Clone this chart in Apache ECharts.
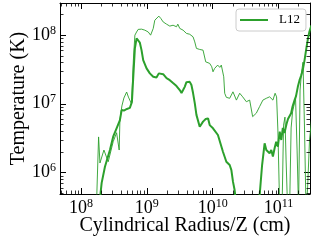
<!DOCTYPE html>
<html>
<head>
<meta charset="utf-8">
<script src="https://cdn.jsdelivr.net/npm/echarts@6/dist/echarts.min.js"></script>
<style>html,body{margin:0;padding:0;background:#fff}#c{width:320px;height:240px}</style>
</head>
<body>
<div id="c"></div>
<script>
// ---- data ----
const xLimits = [4.8e7, 3e11];
const yLimits = [4.9e5, 2.9e8];
const xTitle = 'Cylindrical Radius/Z (cm)';
const yTitle = 'Temperature (K)';
const legendName = 'L12';

// thin line (radius, temperature)
const thinR = [
 1.69e8,1.85e8,1.94e8,2.23e8,2.59e8,3.08e8,3.47e8,3.80e8,3.90e8,4.18e8,
 4.48e8,4.93e8,5.25e8,5.62e8,5.86e8,6.24e8,6.58e8,6.98e8,7.38e8,8.3e8,
 9.33e8,1.05e9,1.14e9,1.25e9,1.32e9,1.40e9,1.52e9,1.63e9,1.77e9,1.99e9,
 2.23e9,2.50e9,2.82e9,2.95e9,3.16e9,3.55e9,3.99e9,4.48e9,5.03e9,5.34e9,
 5.66e9,6.35e9,7.13e9,7.56e9,7.83e9,9.0e9,9.67e9,1.01e10,1.07e10,1.19e10,
 1.28e10,1.35e10,1.43e10,1.47e10,1.52e10,1.61e10,1.81e10,2.03e10,2.29e10,2.57e10,
 2.85e10,3.24e10,3.64e10,4.04e10,4.59e10,5.15e10,5.78e10,6.51e10,6.89e10,7.31e10,
 8.2e10,8.86e10,9.33e10,9.76e10,1.04e11,1.13e11,1.19e11,1.25e11,1.30e11,1.37e11,
 1.47e11,1.55e11,1.63e11,1.81e11,1.91e11,2.01e11,2.12e11,2.23e11,2.35e11,2.48e11,
 2.61e11,2.75e11,2.95e11,3.16e11
];
const thinT = [
 2e5,3.3e6,1.38e6,2.13e6,1.44e6,2.81e6,3.8e6,2.13e6,5.8e6,9.3e6,
 1.21e7,1.48e7,1.25e7,1.29e7,9.9e6,4.3e7,9.9e7,1.10e8,1.20e8,1.21e8,
 1.17e8,1.10e8,9.9e7,1.24e8,1.63e8,1.73e8,1.87e8,1.73e8,1.54e8,1.43e8,
 1.34e8,1.38e8,1.31e8,1.43e8,1.24e8,1.17e8,1.05e8,1.02e8,9.36e7,7.9e7,
 6.36e7,6.14e7,6.0e7,5.67e7,4.06e7,3.85e7,3.44e7,2.91e7,3.26e7,3.64e7,
 3.37e7,3.64e7,3.44e7,2.46e7,1.42e7,1.24e7,1.20e7,1.49e7,1.13e7,1.42e7,
 1.26e7,1.07e7,1.13e7,6.5e6,7.3e6,9.1e6,1.13e7,1.20e7,1.13e7,1.26e7,
 1.13e7,1.42e7,1.26e7,4.16e6,3e5,3e5,4.9e6,6.4e6,1.53e6,3e5,
 3e5,4.45e6,7.6e6,1.21e7,2.13e6,3e5,1.58e7,2.88e7,4.02e7,4.16e6,
 3e5,5.6e5,2.98e6,5.8e6
];

// thick line (radius, temperature)
const thickR = [
 1.87e8,2.06e8,2.31e8,2.75e8,3.08e8,3.47e8,3.90e8,4.14e8,4.48e8,4.98e8,
 5.52e8,5.93e8,6.24e8,6.58e8,6.98e8,7.43e8,7.83e8,8.3e8,8.8e8,9.9e8,
 1.11e9,1.25e9,1.40e9,1.52e9,1.63e9,1.77e9,1.99e9,2.23e9,2.50e9,2.82e9,
 3.16e9,3.36e9,3.55e9,3.76e9,3.99e9,4.22e9,4.48e9,4.75e9,5.03e9,5.34e9,
 5.66e9,6.35e9,7.13e9,7.83e9,8.49e9,9.0e9,9.55e9,1.01e10,1.07e10,1.20e10,
 1.28e10,1.43e10,1.61e10,1.81e10,1.92e10,2.03e10,2.15e10,2.31e10,4.81e10,5.15e10,
 5.62e10,6.14e10,6.51e10,6.89e10,7.31e10,7.75e10,8.2e10,8.7e10,9.2e10,9.76e10,
 1.04e11,1.10e11,1.16e11,1.23e11,1.32e11,1.39e11,1.47e11,1.55e11,1.63e11,1.75e11,
 1.84e11,1.96e11,2.08e11,2.19e11,2.33e11,2.48e11,2.66e11,2.80e11,2.95e11,3.16e11
];
const thickT = [
 3e5,7.1e5,1.22e6,2.13e6,3.33e6,4.4e6,5.8e6,8.1e6,7.97e6,8.4e6,
 8.7e6,1.06e7,2.6e7,6.4e7,8.87e7,8.4e7,7.7e7,6.0e7,4.3e7,3.26e7,
 2.76e7,2.46e7,2.40e7,2.76e7,2.91e7,2.69e7,2.35e7,2.20e7,2.0e7,1.81e7,
 1.58e7,1.43e7,1.58e7,1.76e7,2.06e7,2.13e7,2.08e7,1.87e7,1.43e7,1.02e7,
 6.9e6,4.64e6,5.5e6,6.0e6,6.14e6,4.9e6,5.08e6,4.4e6,4.64e6,3.52e6,
 3.33e6,2.01e6,1.44e6,1.29e6,1.09e6,7.4e5,5.6e5,3e5,3e5,4.6e5,
 1.29e6,2.67e6,2.13e6,2.26e6,1.91e6,2.13e6,1.71e6,2.26e6,2.81e6,2.38e6,
 3.93e6,2.98e6,4.45e6,3.76e6,5.08e6,6.0e6,6.2e6,7.3e6,9.1e6,1.13e7,
 1.29e7,1.76e7,2.20e7,2.52e7,3.08e7,4.3e7,6.7e7,8.96e7,1.13e8,1.38e8
];

// ---- styling / build ----
const GREEN = '#2ca02c';
const SERIF = "'Liberation Serif', 'DejaVu Serif', serif";

function zip(a, b) { return a.map((v, i) => [v, b[i]]); }
function minorVals(lo, hi) {
  const out = [];
  for (let e = Math.floor(Math.log10(lo)); e <= Math.ceil(Math.log10(hi)); e++) {
    for (let k = 2; k <= 9; k++) {
      const v = k * Math.pow(10, e);
      if (v > lo && v < hi) out.push(v);
    }
  }
  return out;
}
function powLabel(v) {
  const e = Math.log10(v), r = Math.round(e);
  if (Math.abs(e - r) > 1e-6) return '';
  return '{b|10}{s|' + r + '}';
}
const labelRich = {
  b: { fontFamily: SERIF, fontSize: 18, color: '#000' },
  s: { fontFamily: SERIF, fontSize: 12, color: '#000', padding: [0, 0, 9, 0] }
};
const MINOR = 3.5;

function xAxisCfg(pos, showLabels) {
  return {
    type: 'log', logBase: 10, position: pos, min: xLimits[0], max: xLimits[1],
    axisLine: { show: true, onZero: false, lineStyle: { color: '#000', width: 1 } },
    axisTick: { show: true, inside: true, length: 6, lineStyle: { color: '#000', width: 1 } },
    splitLine: { show: false }, minorTick: { show: false },
    axisLabel: showLabels ? { show: true, formatter: powLabel, rich: labelRich, margin: 4, showMinLabel: false, showMaxLabel: false } : { show: false },
    name: showLabels ? xTitle : '', nameLocation: 'middle', nameGap: 22, nameMoveOverlap: false,
    nameTextStyle: { fontFamily: SERIF, fontSize: 20, color: '#000', verticalAlign: 'top' }
  };
}
function yAxisCfg(pos, showLabels) {
  return {
    type: 'log', logBase: 10, position: pos, min: yLimits[0], max: yLimits[1],
    axisLine: { show: true, onZero: false, lineStyle: { color: '#000', width: 1 } },
    axisTick: { show: true, inside: true, length: 6, lineStyle: { color: '#000', width: 1 } },
    splitLine: { show: false }, minorTick: { show: false },
    axisLabel: showLabels ? { show: true, formatter: powLabel, rich: labelRich, margin: 4, showMinLabel: false, showMaxLabel: false } : { show: false },
    name: showLabels ? yTitle : '', nameLocation: 'middle', nameGap: 31, nameRotate: 90, nameMoveOverlap: false,
    nameTextStyle: { fontFamily: SERIF, fontSize: 20, color: '#000' }
  };
}

const xMinor = minorVals(xLimits[0], xLimits[1]);
const yMinor = minorVals(yLimits[0], yLimits[1]);

const chart = echarts.init(document.getElementById('c'), null, { renderer: 'canvas' });
chart.setOption({
  animation: false,
  grid: { left: 60, right: 10, top: 3, bottom: 46, containLabel: false, outerBoundsMode: 'none' },
  xAxis: [xAxisCfg('bottom', true), xAxisCfg('top', false)],
  yAxis: [yAxisCfg('left', true), yAxisCfg('right', false)],
  legend: {
    data: [{ name: legendName, icon: 'rect' }], left: 236, top: 9, itemWidth: 28, itemHeight: 2,
    padding: [4, 6, 4, 4], borderColor: '#cccccc', borderWidth: 1, borderRadius: 3,
    backgroundColor: 'rgba(255,255,255,0.8)', selectedMode: false,
    textStyle: { fontFamily: SERIF, fontSize: 13, color: '#000', padding: [0, 0, 0, 6], lineHeight: 14 }
  },
  series: [
    {
      name: legendName + ' thin', type: 'line', data: zip(thinR, thinT),
      symbol: 'none', clip: true, z: 2,
      lineStyle: { color: GREEN, width: 1, opacity: 0.9 }, itemStyle: { color: GREEN }
    },
    {
      name: legendName, type: 'line', data: zip(thickR, thickT),
      symbol: 'none', clip: true, z: 3,
      lineStyle: { color: GREEN, width: 2 }, itemStyle: { color: GREEN }
    },
    {
      type: 'custom', silent: true, z: 5, clip: false,
      data: xMinor.map(v => [v, 1e6]),
      renderItem: function (params, api) {
        const cs = params.coordSys;
        const px = Math.round(api.coord([api.value(0), api.value(1)])[0]) + 0.5;
        const st = { stroke: '#000', lineWidth: 0.8 };
        return { type: 'group', children: [
          { type: 'line', shape: { x1: px, y1: cs.y + cs.height, x2: px, y2: cs.y + cs.height - MINOR }, style: st },
          { type: 'line', shape: { x1: px, y1: cs.y, x2: px, y2: cs.y + MINOR }, style: st }
        ] };
      }
    },
    {
      type: 'custom', silent: true, z: 5, clip: false,
      data: yMinor.map(v => [1e9, v]),
      renderItem: function (params, api) {
        const cs = params.coordSys;
        const py = Math.round(api.coord([api.value(0), api.value(1)])[1]) + 0.5;
        const st = { stroke: '#000', lineWidth: 0.8 };
        return { type: 'group', children: [
          { type: 'line', shape: { x1: cs.x, y1: py, x2: cs.x + MINOR, y2: py }, style: st },
          { type: 'line', shape: { x1: cs.x + cs.width, y1: py, x2: cs.x + cs.width - MINOR, y2: py }, style: st }
        ] };
      }
    }
  ]
});
</script>
</body>
</html>
